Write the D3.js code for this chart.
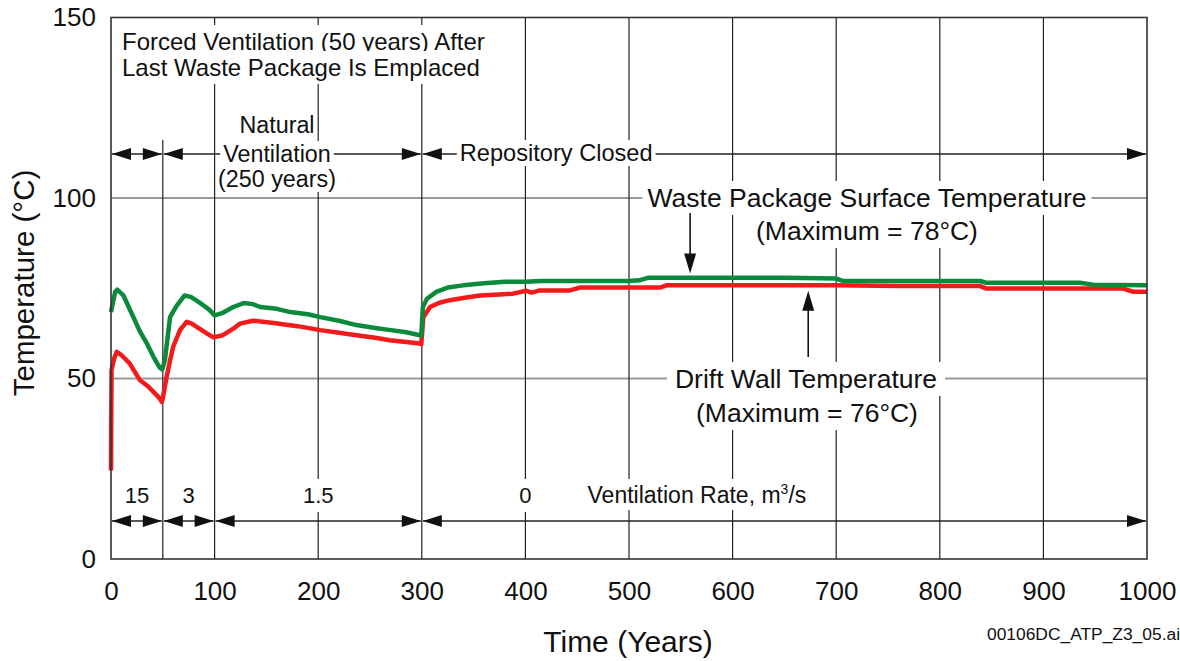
<!DOCTYPE html>
<html><head><meta charset="utf-8">
<script src="https://cdn.jsdelivr.net/npm/d3@7"></script>
<style>
html,body{margin:0;padding:0;background:#fff;}
text{font-family:"Liberation Sans",Arial,sans-serif;fill:#111;}
</style></head>
<body><svg id="c" width="1180" height="661"></svg>
<script>
// ---- data ----
const xTicks = [0,100,200,300,400,500,600,700,800,900,1000];
const yTicks = [0,50,100,150];
const hGrid = [50,100];
const vGrid = [100,200,300,400,500,600,700,800,900];
const phaseLine = 50;

const wpTime = [0,4,6,12,20,28,35,41,47,49.5,52,57,63,71,77,83,89,95,100,108,118,128,137,144,160,173,190,202,220,237,255,270,285,298,299.5,301,305,314,325,340,360,380,400,415,450,500,510,518,560,600,650,700,707,760,800,839,845,900,935,948,1000];
const wpTemp = [68.4,74,74.6,73,68,63,59.5,56,53,52.5,55,67,70,73,72.6,71.5,70.3,69,67.5,68.2,69.8,70.9,70.6,69.8,69.3,68.4,67.8,67,66,64.8,64,63.4,62.8,62,61.8,69.8,72.1,74,75.2,75.8,76.4,76.8,76.8,77,77,77,77.2,77.9,77.9,77.9,77.9,77.7,77,77,77,77,76.5,76.5,76.5,76,75.8];

const dwTime = [0,0.5,3,5.5,10,18,28,35,41,47,49,50,53.7,57,60,66.6,73,78,82.7,92.4,98.7,108,118,124.5,137,157,180,202,220,237,255,269,285,298,299.5,301.5,308,317,327,340,356,375,388,401,406,414,443,453,500,530,536,600,665,700,760,839,845,900,977,987,1000];
const dwTemp = [24.5,52.3,55.5,57.4,56.5,54.2,49.5,48,46.3,44.5,43.5,44.5,50.5,55,58.8,63.4,65.7,65.2,64.3,62.5,61.4,62,63.8,65.2,66,65.4,64.5,63.4,62.7,62,61.3,60.6,60.1,59.7,59.5,67,69.8,71,71.7,72.3,73,73.3,73.5,74.3,73.8,74.4,74.4,75.2,75.2,75.2,75.8,75.8,75.8,75.8,75.6,75.6,74.9,74.9,74.9,74,74];

const topPhases = [[0,50],[50,300],[300,1000]];
const ventPhases = [[0,50],[50,100],[100,300],[300,1000]];
const ventRates = ["15","3","1.5","0"];
const ventRateAt = [25,75,200,400];

const wpMax = 78, dwMax = 76;
const wpArrowT = 559, dwArrowT = 673;

// ---- layout ----
const svg = d3.select("#c");
const x = d3.scaleLinear().domain([0,1000]).range([111,1147]);
const y = d3.scaleLinear().domain([0,150]).range([559,17.5]);
const FONT = '"Liberation Sans",Arial,sans-serif';

const gGrid = svg.append("g");
const gRows = svg.append("g");
const gText = svg.append("g");
const gLines = svg.append("g");
const gAnn = svg.append("g");

// horizontal grid
gGrid.selectAll("line.h").data(hGrid).join("line")
  .attr("x1",x(0)).attr("x2",x(1000)).attr("y1",d=>y(d)).attr("y2",d=>y(d))
  .attr("stroke","#9a9a9a").attr("stroke-width",2);
// vertical grid
gGrid.selectAll("line.v").data(vGrid).join("line")
  .attr("x1",d=>x(d)).attr("x2",d=>x(d)).attr("y1",y(150)).attr("y2",y(0))
  .attr("stroke","#222").attr("stroke-width",1.2);
gGrid.append("line").attr("x1",x(phaseLine)).attr("x2",x(phaseLine))
  .attr("y1",140).attr("y2",y(0)).attr("stroke","#222").attr("stroke-width",1.2);

// arrow rows
function arrowRow(phases, yy){
  phases.forEach(([a,b])=>{
    const x0=x(a)+1, x1=x(b)-1;
    gRows.append("line").attr("x1",x0).attr("x2",x1).attr("y1",yy).attr("y2",yy)
      .attr("stroke","#222").attr("stroke-width",1.3);
    gRows.append("path").attr("d",`M${x0},${yy}L${x0+19},${yy-6}L${x0+19},${yy+6}Z`).attr("fill","#111");
    gRows.append("path").attr("d",`M${x1},${yy}L${x1-19},${yy-6}L${x1-19},${yy+6}Z`).attr("fill","#111");
  });
}
arrowRow(topPhases,154);
arrowRow(ventPhases,521);

// text with white background
function label(xx,yy,txt,size,anchor,pad){
  const g = gText.append("g");
  const rect = g.append("rect").attr("fill","#fff");
  const t = g.append("text").attr("x",xx).attr("y",yy).attr("font-size",size)
    .attr("text-anchor",anchor||"start").text(txt);
  const bb = t.node().getBBox();
  const p = pad||[3,2];
  rect.attr("x",bb.x-p[0]).attr("y",bb.y-p[1]).attr("width",bb.width+2*p[0]).attr("height",bb.height+2*p[1]);
  return t;
}
label(122,50,"Forced Ventilation (50 years) After",24,"start",[4,3]);
label(122,76,"Last Waste Package Is Emplaced",24,"start",[4,3]);
label(277,133,"Natural",23.3,"middle",[2,0]);
label(277,162,"Ventilation",23.3,"middle",[3,0]);
label(277,187,"(250 years)",23.3,"middle",[2,0]);
label(x(300)+38,161,"Repository Closed",23.6,"start",[3,0]);

label(867,207,"Waste Package Surface Temperature",26.5,"middle",[5,2]);
label(867,240,"(Maximum = 78°C)",26.5,"middle",[4,2]);
label(806,388,"Drift Wall Temperature",26.5,"middle",[8,2]);
label(807,422,"(Maximum = 76°C)",26.5,"middle",[4,2]);

ventRates.forEach((r,i)=>label(x(ventRateAt[i]),503,r,22,"middle",[4,4]));
{
  const g = gText.append("g");
  const rect = g.append("rect").attr("fill","#fff");
  const t = g.append("text").attr("x",x(460)).attr("y",503).attr("font-size",23);
  t.append("tspan").text("Ventilation Rate, m");
  t.append("tspan").attr("font-size",14).attr("dy",-9).text("3");
  t.append("tspan").attr("dy",9).text("/s");
  const bb=t.node().getBBox();
  rect.attr("x",bb.x-4).attr("y",bb.y-2).attr("width",bb.width+8).attr("height",bb.height+4);
}

// frame
svg.append("rect").attr("x",x(0)).attr("y",y(150)).attr("width",x(1000)-x(0)).attr("height",y(0)-y(150))
  .attr("fill","none").attr("stroke","#333").attr("stroke-width",1.6);

// axes labels
const xa = svg.append("g").attr("transform",`translate(0,${y(0)})`)
  .call(d3.axisBottom(x).tickValues(xTicks).tickSize(0).tickPadding(23).tickFormat(d3.format("d")));
xa.select(".domain").remove();
xa.selectAll("text").attr("font-size",26).attr("font-family",FONT).attr("fill","#111");
const ya = svg.append("g").attr("transform",`translate(${x(0)},0)`)
  .call(d3.axisLeft(y).tickValues(yTicks).tickSize(0).tickPadding(15).tickFormat(d3.format("d")));
ya.select(".domain").remove();
ya.selectAll("text").attr("font-size",26).attr("font-family",FONT).attr("fill","#111");

svg.append("text").attr("transform","translate(34,283) rotate(-90)").attr("text-anchor","middle")
  .attr("font-size",29.5).text("Temperature (°C)");
svg.append("text").attr("x",628).attr("y",652).attr("text-anchor","middle")
  .attr("font-size",30).text("Time (Years)");
svg.append("text").attr("x",1180).attr("y",640).attr("text-anchor","end")
  .attr("font-size",16).attr("font-family",'"Liberation Sans Narrow","Liberation Sans",Arial,sans-serif')
  .attr("textLength",193).attr("lengthAdjust","spacingAndGlyphs").text("00106DC_ATP_Z3_05.ai");

// curves
const line = d3.line().x(d=>x(d[0])).y(d=>y(d[1]));
gLines.append("path").datum(dwTime.map((t,i)=>[t,dwTemp[i]])).attr("d",line)
  .attr("fill","none").attr("stroke","#f21a1a").attr("stroke-width",4.5).attr("stroke-linejoin","round");
gLines.append("path").datum(wpTime.map((t,i)=>[t,wpTemp[i]])).attr("d",line)
  .attr("fill","none").attr("stroke","#0b8a3c").attr("stroke-width",4.5).attr("stroke-linejoin","round");

// annotation arrows
function vArrow(xx,yFrom,yTip){
  const dir = yTip>yFrom?1:-1;
  gAnn.append("line").attr("x1",xx).attr("x2",xx).attr("y1",yFrom).attr("y2",yTip-dir*18)
    .attr("stroke","#111").attr("stroke-width",1.6);
  gAnn.append("path").attr("d",`M${xx},${yTip}L${xx-6},${yTip-dir*20}L${xx+6},${yTip-dir*20}Z`).attr("fill","#111");
}
vArrow(x(wpArrowT),213,y(wpMax)-4);
vArrow(x(dwArrowT),357,y(dwMax)+6);
</script></body></html>
